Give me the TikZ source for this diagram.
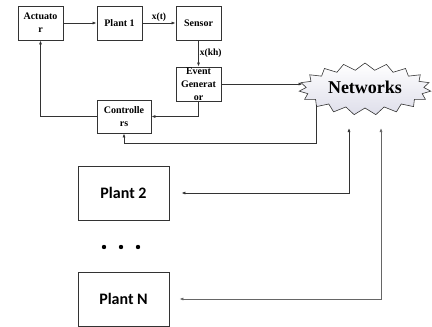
\documentclass[tikz,border=0pt]{standalone}
\usepackage{fontspec}
\setmainfont{Liberation Serif}
\newfontfamily\carl{Carlito}
\usetikzlibrary{shapes.symbols,arrows.meta}
\begin{document}
\begin{tikzpicture}[x=1pt,y=-1pt,
  blk/.style={draw=black!80, line width=0.8pt, minimum width=45pt, minimum height=34pt, inner sep=0pt, align=center, font=\bfseries\fontsize{10}{13}\selectfont},
  big/.style={draw=black!80, line width=0.8pt, minimum width=91pt, minimum height=54pt, inner sep=0pt, font=\carl\bfseries\fontsize{16}{18}\selectfont},
  arr/.style={draw=black!80, line width=0.7pt, -{Latex[length=4pt,width=3pt]}},
  arrb/.style={draw=black!80, line width=0.7pt, {Latex[length=4pt,width=3pt]}-{Latex[length=4pt,width=3pt]}},
  lbl/.style={font=\bfseries\fontsize{9.5}{10}\selectfont, inner sep=1pt}]
\useasboundingbox (0,0) rectangle (432,327);
\node[blk] (act) at (40.5,23) {Actuato\\r};
\node[blk] (p1) at (119.5,23) {Plant 1};
\node[blk] (sen) at (198.5,23) {Sensor};
\node[blk] (eg) at (198.5,84) {Event\\Generat\\or};
\node[blk, minimum width=54pt, minimum height=33pt] (ctl) at (124,116.5) {Controlle\\rs};
\node[starburst, draw=black!80, line width=0.6pt, starburst points=19, starburst point height=7pt, random starburst=0, minimum width=132pt, minimum height=52pt, inner sep=0pt, top color=white, bottom color={rgb,255:red,222;green,222;blue,234}, font=\bfseries\fontsize{18}{20}\selectfont] (net) at (365,89) {\raisebox{4pt}{Networks}};
\node[big] (p2) at (123.5,193) {Plant 2};
\node[big] (pn) at (123.5,299) {Plant N};
\coordinate (t2) at (349,128);
\coordinate (tn) at (381,128);
\draw[arr] (act) -- (p1);
\draw[arr] (p1) -- node[lbl, above] {x(t)} (sen);
\draw[arr] (sen) -- node[lbl, right] {x(kh)} (eg);
\draw[arr] (eg.east) -- (eg.east -| net.west);
\draw[arr] (eg.south) |- (ctl.east);
\draw[arr] (ctl.west) -| (act.south);
\draw[arr] (net.198) |- ([yshift=-10pt]ctl.south) -- (ctl.south);
\draw[arrb, shorten <=12pt] (p2.east) -| (t2);
\draw[arrb, shorten <=10pt, draw=black!60] (pn.east) -| (tn);
\foreach \x in {104,121,138} \fill (\x,247) circle (2.2pt);
\end{tikzpicture}
\end{document}
